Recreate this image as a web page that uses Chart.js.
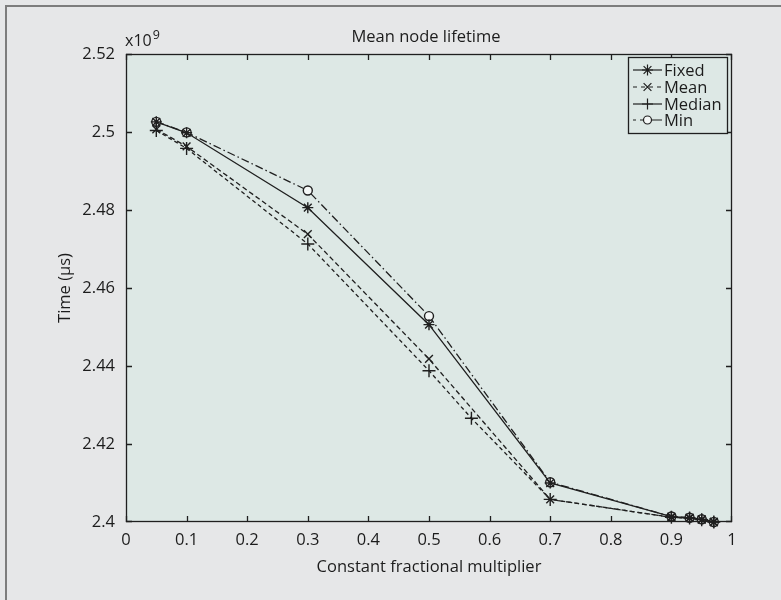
<!DOCTYPE html>
<html>
<head>
<meta charset="utf-8">
<script src="https://cdn.jsdelivr.net/npm/chart.js@4.4.1/dist/chart.umd.min.js"></script>
<style>
html,body{margin:0;padding:0;background:#e6e7e8;}
#wrap{width:781px;height:600px;position:relative;}
</style>
</head>
<body>
<div id="wrap"><canvas id="c" width="781" height="600"></canvas></div>
<script>
// ---- data (values in units of 10^9 µs) ----
const xValues = [0.05, 0.1, 0.3, 0.5, 0.7, 0.9, 0.93, 0.95, 0.97];
const medianX = [0.05, 0.1, 0.3, 0.5, 0.57, 0.7, 0.9, 0.93, 0.95, 0.97];
const fixedVals = [2.5026, 2.4998, 2.4806, 2.4506, 2.4100, 2.4014, 2.4011, 2.4007, 2.4000];
const meanVals = [2.5007, 2.4963, 2.4738, 2.4418, 2.4058, 2.4012, 2.4010, 2.4006, 2.4000];
const medianVals = [2.5004, 2.4958, 2.4713, 2.4388, 2.4266, 2.4058, 2.4012, 2.4010, 2.4006, 2.4000];
const minVals = [2.5026, 2.4999, 2.4850, 2.4528, 2.4102, 2.4014, 2.4011, 2.4007, 2.4000];
const seriesNames = ['Fixed', 'Mean', 'Median', 'Min'];
const yTicks = [2.4, 2.42, 2.44, 2.46, 2.48, 2.5, 2.52];
const xTicks = [0, 0.1, 0.2, 0.3, 0.4, 0.5, 0.6, 0.7, 0.8, 0.9, 1];
const chartTitle = 'Mean node lifetime';
const xTitle = 'Constant fractional multiplier';
const yTitle = 'Time (µs)';
const expText = 'x10';
const expSup = '9';

const FONT = '"Open Sans", "Noto Sans", sans-serif';
const INK = '#1f1f1f';
const PLOT_BG = '#dde8e5';

function pts(xs, ys){ return xs.map((x,i)=>({x:x, y:ys[i]})); }

const lineCommon = {borderColor: INK, borderWidth: 1.3, pointRadius: 5.5, pointBorderWidth: 1.4,
  pointBorderColor: INK, pointBackgroundColor: INK, tension: 0, clip: false, fill: false};

const datasets = [
  Object.assign({}, lineCommon, {label: seriesNames[0], data: pts(xValues, fixedVals), pointStyle: 'star', borderDash: [], legendDash: []}),
  Object.assign({}, lineCommon, {label: seriesNames[1], data: pts(xValues, meanVals), pointStyle: 'crossRot', borderDash: [5, 3], legendDash: [4, 4]}),
  Object.assign({}, lineCommon, {label: seriesNames[2], data: pts(medianX, medianVals), pointStyle: 'cross', pointRadius: 6.5, borderDash: [4, 3], legendDash: []}),
  Object.assign({}, lineCommon, {label: seriesNames[3], data: pts(xValues, minVals), pointStyle: 'circle', pointRadius: 4.5, pointBackgroundColor: '#f4f7f6', borderDash: [8, 3, 1.5, 3], legendDash: [3, 4, 3, 3, 14, 0]})
];

const decor = {
  id: 'decor',
  beforeDraw(chart){
    const ctx = chart.ctx, a = chart.chartArea;
    ctx.save();
    ctx.fillStyle = '#e6e7e8';
    ctx.fillRect(0,0,chart.width,chart.height);
    ctx.fillStyle = '#7d7d7d';
    ctx.fillRect(5,5,chart.width-5,2);
    ctx.fillRect(5,5,2,chart.height-5);
    ctx.fillStyle = PLOT_BG;
    ctx.fillRect(a.left, a.top, a.right-a.left, a.bottom-a.top);
    ctx.restore();
  },
  afterDraw(chart){
    const ctx = chart.ctx, a = chart.chartArea;
    const xs = chart.scales.x, ys = chart.scales.y;
    ctx.save();
    // frame
    ctx.strokeStyle = INK; ctx.lineWidth = 1.3; ctx.setLineDash([]);
    ctx.strokeRect(a.left+0.5, a.top+0.5, a.right-a.left-1, a.bottom-a.top-1);
    // inward ticks
    const tl = 6;
    ctx.beginPath();
    xTicks.forEach(v=>{
      const px = Math.min(Math.round(xs.getPixelForValue(v))+0.5, a.right-0.5);
      ctx.moveTo(px, a.bottom); ctx.lineTo(px, a.bottom-tl);
      ctx.moveTo(px, a.top); ctx.lineTo(px, a.top+tl);
    });
    yTicks.forEach(v=>{
      const py = Math.min(Math.round(ys.getPixelForValue(v))+0.5, a.bottom-0.5);
      ctx.moveTo(a.left, py); ctx.lineTo(a.left+tl, py);
      ctx.moveTo(a.right, py); ctx.lineTo(a.right-tl, py);
    });
    ctx.stroke();
    // title
    ctx.fillStyle = '#1c1c1c';
    ctx.font = '16.5px ' + FONT;
    ctx.textAlign = 'center'; ctx.textBaseline = 'middle';
    ctx.fillText(chartTitle, (a.left+a.right)/2 - 3, 37);
    // exponent
    ctx.textAlign = 'left'; ctx.textBaseline = 'alphabetic';
    ctx.font = '16px ' + FONT;
    ctx.fillText(expText, a.left-1, 46);
    const w = ctx.measureText(expText).width;
    ctx.font = '12.5px ' + FONT;
    ctx.fillText(expSup, a.left-1+w+1, 39);
    // legend
    const lx = 628, ly = 57, lw = 99, lh = 76;
    ctx.fillStyle = PLOT_BG;
    ctx.fillRect(lx, ly, lw, lh);
    ctx.strokeStyle = INK; ctx.lineWidth = 1.3;
    ctx.strokeRect(lx+0.5, ly+0.5, lw, lh);
    const rows = [70, 87, 104, 120];
    chart.data.datasets.forEach((ds, i)=>{
      const y = rows[i];
      ctx.strokeStyle = INK; ctx.lineWidth = 1.2;
      ctx.setLineDash(ds.legendDash);
      ctx.beginPath(); ctx.moveTo(633, y); ctx.lineTo(662, y); ctx.stroke();
      ctx.setLineDash([]);
      ctx.fillStyle = ds.pointBackgroundColor;
      Chart.helpers.drawPoint(ctx, {pointStyle: ds.pointStyle, radius: ds.pointStyle==='circle'?4:5.5, rotation: 0, borderWidth: 1.3}, 647.5, y);
      ctx.fillStyle = '#1c1c1c';
      ctx.font = '16.5px ' + FONT;
      ctx.textAlign = 'left'; ctx.textBaseline = 'middle';
      ctx.fillText(ds.label, 664, y+1);
    });
    ctx.restore();
  }
};

new Chart(document.getElementById('c'), {
  type: 'line',
  data: {datasets: datasets},
  options: {
    responsive: false,
    animation: false,
    layout: {padding: {top: 54, left: 50, right: 49, bottom: 0}},
    plugins: {legend: {display: false}, title: {display: false}, tooltip: {enabled: false}},
    scales: {
      x: {
        type: 'linear', min: 0, max: 1,
        afterBuildTicks(s){ s.ticks = xTicks.map(v=>({value: v})); },
        afterFit(s){ s.height = 78; },
        grid: {display: false, drawTicks: false},
        border: {display: false},
        ticks: {padding: 8, color: '#1c1c1c', font: {family: FONT, size: 16.5}, maxRotation: 0,
          callback: v => String(Number(v.toFixed(2)))},
        title: {display: true, text: xTitle, color: '#1c1c1c', font: {family: FONT, size: 16.5}, padding: {top: 0, bottom: 23}}
      },
      y: {
        type: 'linear', min: 2.4, max: 2.52,
        afterBuildTicks(s){ s.ticks = yTicks.map(v=>({value: v})); },
        afterFit(s){ s.width = 76; },
        grid: {display: false, drawTicks: false},
        border: {display: false},
        ticks: {padding: 11, color: '#1c1c1c', font: {family: FONT, size: 16.5},
          callback: v => String(Number(v.toFixed(2)))},
        title: {display: true, text: yTitle, color: '#1c1c1c', font: {family: FONT, size: 16.5}, padding: {top: 5, bottom: 0}}
      }
    }
  },
  plugins: [decor]
});
</script>
</body>
</html>
